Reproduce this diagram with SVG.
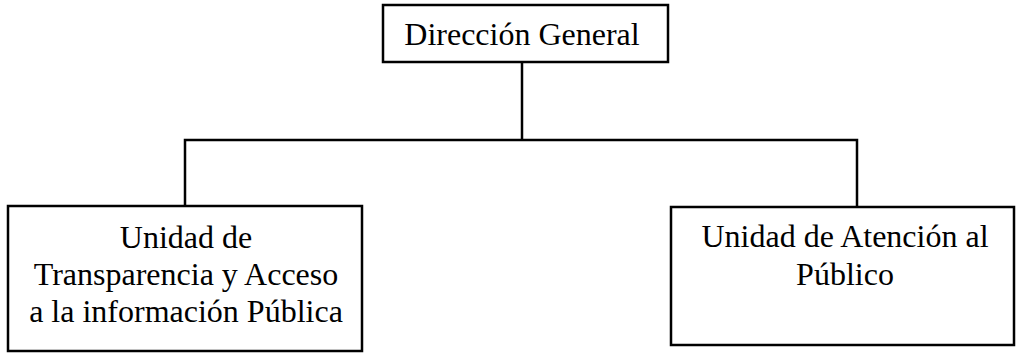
<svg xmlns="http://www.w3.org/2000/svg" width="1016" height="353" viewBox="0 0 1016 353">
<style>
.box{fill:#fff;stroke:#000;stroke-width:2.5}
.lbl{font-family:"Liberation Serif","Times New Roman",serif;font-size:32px;fill:#000;text-anchor:middle}
.con{fill:none;stroke:#000;stroke-width:2.5}
</style>
<rect width="1016" height="353" fill="#fff"/>
<g id="connectors">
<line class="con" x1="522" y1="62" x2="522" y2="140"/>
<polyline class="con" points="185,206 185,140 857,140 857,207"/>
</g>
<g id="direccion-general">
<rect class="box" x="383" y="5" width="285" height="57"/>
<text class="lbl" x="522" y="45">Dirección General</text>
</g>
<g id="unidad-transparencia">
<rect class="box" x="8" y="206" width="354" height="145"/>
<text class="lbl" x="186" y="248">Unidad de</text>
<text class="lbl" x="186" y="285">Transparencia y Acceso</text>
<text class="lbl" x="186" y="322">a la información Pública</text>
</g>
<g id="unidad-atencion">
<rect class="box" x="671" y="207" width="343" height="138"/>
<text class="lbl" x="845" y="247">Unidad de Atención al</text>
<text class="lbl" x="845" y="285">Público</text>
</g>
</svg>
